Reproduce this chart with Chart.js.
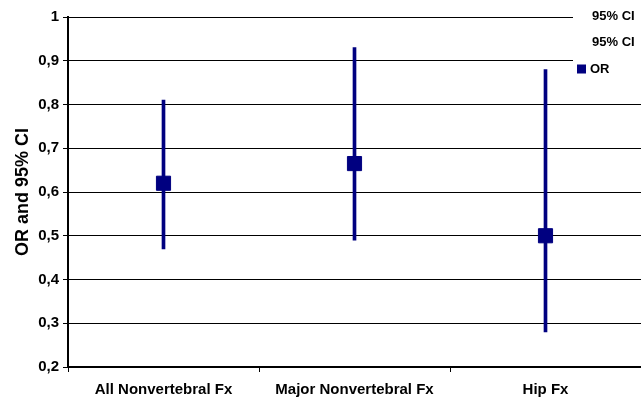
<!DOCTYPE html>
<html>
<head>
<meta charset="utf-8">
<script src="https://cdn.jsdelivr.net/npm/chart.js@4"></script>
<style>
  html, body { margin: 0; padding: 0; background: #fff; }
  #grafico { display: block; }
</style>
</head>
<body>
<canvas id="grafico" width="641" height="400"></canvas>
<script>
const categorias = ['All Nonvertebral Fx', 'Major Nonvertebral Fx', 'Hip Fx'];
const valoresOR = [0.62, 0.665, 0.50];
const icInferior = [0.47, 0.49, 0.28];
const icSuperior = [0.81, 0.93, 0.88];
const rotulosY = ['0,2', '0,3', '0,4', '0,5', '0,6', '0,7', '0,8', '0,9', '1'];
const rotulosLegenda = ['95% CI', '95% CI', 'OR'];

const AZUL = '#000080';
const FONTE = '"Liberation Sans", Arial, sans-serif';

// legenda desenhada por cima do grafico, como no original
const legendaFixa = {
    id: 'legendaFixa',
    afterDraw(chart) {
        const ctx = chart.ctx;
        ctx.save();
        ctx.fillStyle = '#fff';
        ctx.fillRect(573, 0, 68, 80);
        ctx.font = 'bold 13px ' + FONTE;
        ctx.textBaseline = 'middle';
        ctx.fillStyle = '#000';
        const linhas = [16, 42, 69];
        rotulosLegenda.forEach((txt, i) => {
            if (i === 2) {
                ctx.fillStyle = AZUL;
                ctx.fillRect(577, linhas[i] - 4.5, 9, 9);
                ctx.fillStyle = '#000';
                ctx.fillText(txt, 590, linhas[i]);
            } else {
                ctx.fillText(txt, 592, linhas[i]);
            }
        });
        ctx.restore();
    }
};

new Chart(document.getElementById('grafico').getContext('2d'), {
    type: 'bar',
    data: {
        labels: categorias,
        datasets: [
            {
                label: '95% CI',
                data: icInferior.map((v, i) => [v, icSuperior[i]]),
                backgroundColor: AZUL,
                borderWidth: 0,
                barThickness: 3,
                order: 2
            },
            {
                type: 'line',
                label: 'OR',
                data: valoresOR,
                showLine: false,
                pointStyle: 'rect',
                pointRadius: 10,
                pointBorderWidth: 1,
                pointBackgroundColor: AZUL,
                pointBorderColor: AZUL,
                order: 1
            }
        ]
    },
    options: {
        responsive: false,
        animation: false,
        devicePixelRatio: 1,
        layout: { autoPadding: false, padding: { top: 17, right: 0, left: 0, bottom: 0 } },
        plugins: {
            legend: { display: false },
            tooltip: { enabled: false }
        },
        scales: {
            x: {
                offset: true,
                grid: { offset: true, drawOnChartArea: false, color: '#000', tickLength: 5 },
                border: { color: '#000', width: 2 },
                ticks: { color: '#000', padding: 9, font: { family: FONTE, size: 15, weight: 'bold' }, maxRotation: 0 },
                afterFit(scale) { scale.height = 33; }
            },
            y: {
                min: 0.2,
                max: 1,
                ticks: {
                    stepSize: 0.1,
                    color: '#000',
                    padding: 4,
                    font: { family: FONTE, size: 15, weight: 'bold' },
                    callback: (v, i) => rotulosY[i]
                },
                grid: { color: '#000', lineWidth: 1, tickLength: 5 },
                border: { color: '#000', width: 2 },
                title: {
                    display: true,
                    text: 'OR and 95% CI',
                    color: '#000',
                    padding: { top: 12, bottom: 0 },
                    font: { family: FONTE, size: 18, weight: 'bold' }
                },
                afterFit(scale) { scale.width = 68; }
            }
        }
    },
    plugins: [legendaFixa]
});
</script>
</body>
</html>
